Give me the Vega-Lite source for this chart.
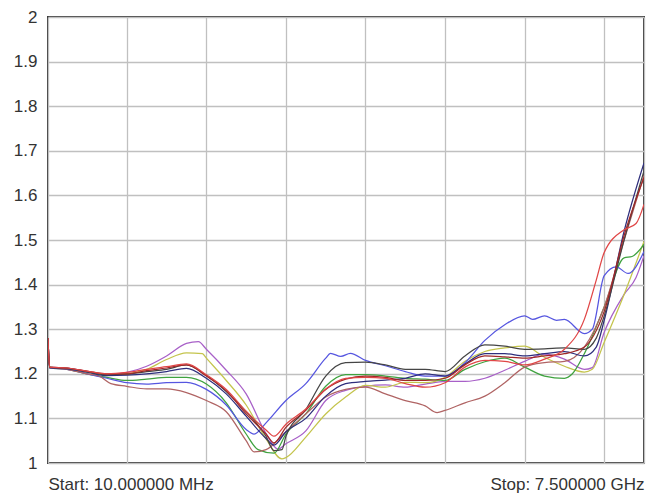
{
  "$schema": "https://vega.github.io/schema/vega-lite/v6.json",
  "width": 596,
  "height": 446,
  "autosize": {"type": "none"},
  "padding": {"left": 48, "top": 17, "right": 14, "bottom": 39},
  "background": "white",
  "config": {
    "view": {"stroke": "#3a3a3a", "strokeWidth": 2},
    "axis": {"domain": false, "ticks": false, "grid": true, "gridColor": "#c0c0c0", "gridWidth": 1.3, "labelFont": "Liberation Sans", "labelFontSize": 17, "labelColor": "#333333"}
  },
  "data": {"values": [
    {"s":"purple","f":0.01,"v":1.28},{"s":"purple","f":0.03,"v":1.215},{"s":"purple","f":0.25,"v":1.213},{"s":"purple","f":0.5,"v":1.205},{"s":"purple","f":0.75,"v":1.198},{"s":"purple","f":1.0,"v":1.203},{"s":"purple","f":1.25,"v":1.217},{"s":"purple","f":1.5,"v":1.24},{"s":"purple","f":1.75,"v":1.268},{"s":"purple","f":1.9,"v":1.272},{"s":"purple","f":2.0,"v":1.255},{"s":"purple","f":2.25,"v":1.208},{"s":"purple","f":2.5,"v":1.155},{"s":"purple","f":2.75,"v":1.066},{"s":"purple","f":2.9,"v":1.031},{"s":"purple","f":3.0,"v":1.043},{"s":"purple","f":3.25,"v":1.072},{"s":"purple","f":3.5,"v":1.14},{"s":"purple","f":3.75,"v":1.163},{"s":"purple","f":4.0,"v":1.172},{"s":"purple","f":4.25,"v":1.175},{"s":"purple","f":4.5,"v":1.17},{"s":"purple","f":4.75,"v":1.177},{"s":"purple","f":5.0,"v":1.183},{"s":"purple","f":5.25,"v":1.183},{"s":"purple","f":5.5,"v":1.19},{"s":"purple","f":5.75,"v":1.208},{"s":"purple","f":6.0,"v":1.228},{"s":"purple","f":6.25,"v":1.244},{"s":"purple","f":6.5,"v":1.233},{"s":"purple","f":6.75,"v":1.21},{"s":"purple","f":6.85,"v":1.214},{"s":"purple","f":7.0,"v":1.293},{"s":"purple","f":7.25,"v":1.378},{"s":"purple","f":7.4,"v":1.416},{"s":"purple","f":7.5,"v":1.465},

    {"s":"olive","f":0.01,"v":1.28},{"s":"olive","f":0.03,"v":1.215},{"s":"olive","f":0.25,"v":1.212},{"s":"olive","f":0.5,"v":1.204},{"s":"olive","f":0.75,"v":1.197},{"s":"olive","f":1.0,"v":1.2},{"s":"olive","f":1.25,"v":1.21},{"s":"olive","f":1.5,"v":1.232},{"s":"olive","f":1.75,"v":1.247},{"s":"olive","f":1.95,"v":1.245},{"s":"olive","f":2.0,"v":1.235},{"s":"olive","f":2.25,"v":1.185},{"s":"olive","f":2.5,"v":1.13},{"s":"olive","f":2.75,"v":1.054},{"s":"olive","f":2.95,"v":1.009},{"s":"olive","f":3.0,"v":1.012},{"s":"olive","f":3.25,"v":1.058},{"s":"olive","f":3.5,"v":1.11},{"s":"olive","f":3.75,"v":1.148},{"s":"olive","f":4.0,"v":1.174},{"s":"olive","f":4.25,"v":1.17},{"s":"olive","f":4.5,"v":1.181},{"s":"olive","f":4.75,"v":1.18},{"s":"olive","f":5.0,"v":1.192},{"s":"olive","f":5.25,"v":1.228},{"s":"olive","f":5.5,"v":1.25},{"s":"olive","f":5.75,"v":1.258},{"s":"olive","f":6.0,"v":1.262},{"s":"olive","f":6.25,"v":1.237},{"s":"olive","f":6.5,"v":1.217},{"s":"olive","f":6.75,"v":1.204},{"s":"olive","f":6.85,"v":1.21},{"s":"olive","f":7.0,"v":1.271},{"s":"olive","f":7.25,"v":1.378},{"s":"olive","f":7.5,"v":1.497},

    {"s":"green","f":0.01,"v":1.28},{"s":"green","f":0.03,"v":1.213},{"s":"green","f":0.25,"v":1.21},{"s":"green","f":0.5,"v":1.2},{"s":"green","f":0.75,"v":1.192},{"s":"green","f":1.0,"v":1.185},{"s":"green","f":1.25,"v":1.188},{"s":"green","f":1.5,"v":1.192},{"s":"green","f":1.75,"v":1.192},{"s":"green","f":2.0,"v":1.177},{"s":"green","f":2.25,"v":1.135},{"s":"green","f":2.5,"v":1.065},{"s":"green","f":2.65,"v":1.03},{"s":"green","f":2.85,"v":1.022},{"s":"green","f":3.0,"v":1.065},{"s":"green","f":3.25,"v":1.11},{"s":"green","f":3.5,"v":1.172},{"s":"green","f":3.75,"v":1.198},{"s":"green","f":4.0,"v":1.198},{"s":"green","f":4.25,"v":1.195},{"s":"green","f":4.5,"v":1.19},{"s":"green","f":4.75,"v":1.188},{"s":"green","f":5.0,"v":1.185},{"s":"green","f":5.25,"v":1.21},{"s":"green","f":5.5,"v":1.227},{"s":"green","f":5.75,"v":1.235},{"s":"green","f":6.0,"v":1.215},{"s":"green","f":6.25,"v":1.195},{"s":"green","f":6.5,"v":1.19},{"s":"green","f":6.6,"v":1.2},{"s":"green","f":6.75,"v":1.245},{"s":"green","f":7.0,"v":1.35},{"s":"green","f":7.25,"v":1.46},{"s":"green","f":7.35,"v":1.463},{"s":"green","f":7.5,"v":1.49},

    {"s":"blue","f":0.01,"v":1.28},{"s":"blue","f":0.03,"v":1.213},{"s":"blue","f":0.25,"v":1.21},{"s":"blue","f":0.5,"v":1.2},{"s":"blue","f":0.75,"v":1.19},{"s":"blue","f":1.0,"v":1.18},{"s":"blue","f":1.25,"v":1.177},{"s":"blue","f":1.5,"v":1.18},{"s":"blue","f":1.75,"v":1.181},{"s":"blue","f":2.0,"v":1.165},{"s":"blue","f":2.25,"v":1.13},{"s":"blue","f":2.5,"v":1.075},{"s":"blue","f":2.6,"v":1.065},{"s":"blue","f":2.75,"v":1.09},{"s":"blue","f":3.0,"v":1.14},{"s":"blue","f":3.25,"v":1.178},{"s":"blue","f":3.5,"v":1.235},{"s":"blue","f":3.56,"v":1.246},{"s":"blue","f":3.69,"v":1.239},{"s":"blue","f":3.81,"v":1.246},{"s":"blue","f":4.0,"v":1.23},{"s":"blue","f":4.25,"v":1.218},{"s":"blue","f":4.5,"v":1.205},{"s":"blue","f":4.75,"v":1.195},{"s":"blue","f":5.0,"v":1.195},{"s":"blue","f":5.25,"v":1.225},{"s":"blue","f":5.5,"v":1.275},{"s":"blue","f":5.75,"v":1.31},{"s":"blue","f":6.0,"v":1.33},{"s":"blue","f":6.1,"v":1.322},{"s":"blue","f":6.25,"v":1.33},{"s":"blue","f":6.4,"v":1.32},{"s":"blue","f":6.5,"v":1.322},{"s":"blue","f":6.75,"v":1.29},{"s":"blue","f":6.85,"v":1.3},{"s":"blue","f":7.0,"v":1.42},{"s":"blue","f":7.15,"v":1.44},{"s":"blue","f":7.3,"v":1.425},{"s":"blue","f":7.5,"v":1.474},

    {"s":"brown","f":0.01,"v":1.28},{"s":"brown","f":0.03,"v":1.214},{"s":"brown","f":0.25,"v":1.21},{"s":"brown","f":0.5,"v":1.2},{"s":"brown","f":0.65,"v":1.195},{"s":"brown","f":0.8,"v":1.178},{"s":"brown","f":1.0,"v":1.172},{"s":"brown","f":1.25,"v":1.166},{"s":"brown","f":1.5,"v":1.166},{"s":"brown","f":1.75,"v":1.158},{"s":"brown","f":2.0,"v":1.14},{"s":"brown","f":2.25,"v":1.115},{"s":"brown","f":2.5,"v":1.05},{"s":"brown","f":2.6,"v":1.025},{"s":"brown","f":2.75,"v":1.03},{"s":"brown","f":3.0,"v":1.07},{"s":"brown","f":3.25,"v":1.11},{"s":"brown","f":3.5,"v":1.148},{"s":"brown","f":3.75,"v":1.165},{"s":"brown","f":4.0,"v":1.17},{"s":"brown","f":4.25,"v":1.155},{"s":"brown","f":4.5,"v":1.14},{"s":"brown","f":4.75,"v":1.128},{"s":"brown","f":4.9,"v":1.113},{"s":"brown","f":5.0,"v":1.118},{"s":"brown","f":5.25,"v":1.135},{"s":"brown","f":5.5,"v":1.15},{"s":"brown","f":5.75,"v":1.18},{"s":"brown","f":6.0,"v":1.215},{"s":"brown","f":6.25,"v":1.225},{"s":"brown","f":6.5,"v":1.228},{"s":"brown","f":6.75,"v":1.26},{"s":"brown","f":7.0,"v":1.35},{"s":"brown","f":7.25,"v":1.5},{"s":"brown","f":7.5,"v":1.645},

    {"s":"navy","f":0.01,"v":1.28},{"s":"navy","f":0.03,"v":1.214},{"s":"navy","f":0.25,"v":1.211},{"s":"navy","f":0.5,"v":1.204},{"s":"navy","f":0.75,"v":1.196},{"s":"navy","f":1.0,"v":1.197},{"s":"navy","f":1.25,"v":1.2},{"s":"navy","f":1.5,"v":1.205},{"s":"navy","f":1.75,"v":1.212},{"s":"navy","f":2.0,"v":1.19},{"s":"navy","f":2.25,"v":1.155},{"s":"navy","f":2.5,"v":1.105},{"s":"navy","f":2.75,"v":1.055},{"s":"navy","f":2.85,"v":1.04},{"s":"navy","f":3.0,"v":1.07},{"s":"navy","f":3.25,"v":1.1},{"s":"navy","f":3.5,"v":1.15},{"s":"navy","f":3.75,"v":1.178},{"s":"navy","f":4.0,"v":1.183},{"s":"navy","f":4.25,"v":1.186},{"s":"navy","f":4.5,"v":1.19},{"s":"navy","f":4.75,"v":1.2},{"s":"navy","f":5.0,"v":1.195},{"s":"navy","f":5.25,"v":1.222},{"s":"navy","f":5.5,"v":1.245},{"s":"navy","f":5.75,"v":1.245},{"s":"navy","f":6.0,"v":1.24},{"s":"navy","f":6.25,"v":1.245},{"s":"navy","f":6.5,"v":1.25},{"s":"navy","f":6.75,"v":1.24},{"s":"navy","f":6.9,"v":1.26},{"s":"navy","f":7.0,"v":1.32},{"s":"navy","f":7.25,"v":1.52},{"s":"navy","f":7.5,"v":1.673},

    {"s":"black","f":0.01,"v":1.28},{"s":"black","f":0.03,"v":1.215},{"s":"black","f":0.25,"v":1.212},{"s":"black","f":0.5,"v":1.205},{"s":"black","f":0.75,"v":1.198},{"s":"black","f":1.0,"v":1.199},{"s":"black","f":1.25,"v":1.205},{"s":"black","f":1.5,"v":1.21},{"s":"black","f":1.75,"v":1.22},{"s":"black","f":2.0,"v":1.196},{"s":"black","f":2.25,"v":1.16},{"s":"black","f":2.5,"v":1.115},{"s":"black","f":2.75,"v":1.06},{"s":"black","f":2.85,"v":1.028},{"s":"black","f":2.95,"v":1.03},{"s":"black","f":3.0,"v":1.06},{"s":"black","f":3.25,"v":1.12},{"s":"black","f":3.5,"v":1.195},{"s":"black","f":3.75,"v":1.225},{"s":"black","f":4.0,"v":1.226},{"s":"black","f":4.25,"v":1.22},{"s":"black","f":4.5,"v":1.21},{"s":"black","f":4.75,"v":1.21},{"s":"black","f":5.0,"v":1.205},{"s":"black","f":5.25,"v":1.24},{"s":"black","f":5.5,"v":1.265},{"s":"black","f":5.75,"v":1.262},{"s":"black","f":6.0,"v":1.255},{"s":"black","f":6.25,"v":1.256},{"s":"black","f":6.5,"v":1.258},{"s":"black","f":6.75,"v":1.255},{"s":"black","f":6.9,"v":1.28},{"s":"black","f":7.0,"v":1.33},{"s":"black","f":7.25,"v":1.5},{"s":"black","f":7.5,"v":1.655},

    {"s":"darkred","f":0.01,"v":1.28},{"s":"darkred","f":0.03,"v":1.215},{"s":"darkred","f":0.25,"v":1.213},{"s":"darkred","f":0.5,"v":1.206},{"s":"darkred","f":0.75,"v":1.2},{"s":"darkred","f":1.0,"v":1.2},{"s":"darkred","f":1.25,"v":1.207},{"s":"darkred","f":1.5,"v":1.213},{"s":"darkred","f":1.75,"v":1.22},{"s":"darkred","f":2.0,"v":1.195},{"s":"darkred","f":2.25,"v":1.162},{"s":"darkred","f":2.5,"v":1.11},{"s":"darkred","f":2.75,"v":1.065},{"s":"darkred","f":2.85,"v":1.045},{"s":"darkred","f":3.0,"v":1.08},{"s":"darkred","f":3.25,"v":1.118},{"s":"darkred","f":3.5,"v":1.165},{"s":"darkred","f":3.75,"v":1.188},{"s":"darkred","f":4.0,"v":1.195},{"s":"darkred","f":4.25,"v":1.192},{"s":"darkred","f":4.5,"v":1.185},{"s":"darkred","f":4.75,"v":1.185},{"s":"darkred","f":5.0,"v":1.19},{"s":"darkred","f":5.25,"v":1.22},{"s":"darkred","f":5.5,"v":1.24},{"s":"darkred","f":5.75,"v":1.238},{"s":"darkred","f":6.0,"v":1.235},{"s":"darkred","f":6.25,"v":1.24},{"s":"darkred","f":6.5,"v":1.245},{"s":"darkred","f":6.75,"v":1.26},{"s":"darkred","f":7.0,"v":1.34},{"s":"darkred","f":7.25,"v":1.51},{"s":"darkred","f":7.5,"v":1.64},

    {"s":"red","f":0.01,"v":1.28},{"s":"red","f":0.03,"v":1.215},{"s":"red","f":0.25,"v":1.213},{"s":"red","f":0.5,"v":1.206},{"s":"red","f":0.75,"v":1.2},{"s":"red","f":1.0,"v":1.203},{"s":"red","f":1.25,"v":1.21},{"s":"red","f":1.5,"v":1.216},{"s":"red","f":1.75,"v":1.222},{"s":"red","f":2.0,"v":1.198},{"s":"red","f":2.25,"v":1.165},{"s":"red","f":2.5,"v":1.116},{"s":"red","f":2.75,"v":1.074},{"s":"red","f":2.85,"v":1.06},{"s":"red","f":3.0,"v":1.087},{"s":"red","f":3.25,"v":1.121},{"s":"red","f":3.5,"v":1.166},{"s":"red","f":3.75,"v":1.19},{"s":"red","f":4.0,"v":1.192},{"s":"red","f":4.25,"v":1.19},{"s":"red","f":4.5,"v":1.178},{"s":"red","f":4.75,"v":1.17},{"s":"red","f":5.0,"v":1.18},{"s":"red","f":5.25,"v":1.215},{"s":"red","f":5.5,"v":1.23},{"s":"red","f":5.75,"v":1.228},{"s":"red","f":6.0,"v":1.22},{"s":"red","f":6.25,"v":1.233},{"s":"red","f":6.5,"v":1.255},{"s":"red","f":6.75,"v":1.322},{"s":"red","f":6.9,"v":1.41},{"s":"red","f":7.0,"v":1.472},{"s":"red","f":7.25,"v":1.523},{"s":"red","f":7.4,"v":1.537},{"s":"red","f":7.5,"v":1.58}
  ]},
  "mark": {"type": "line", "strokeWidth": 1.25, "interpolate": "monotone", "clip": true},
  "encoding": {
    "x": {
      "field": "f", "type": "quantitative",
      "scale": {"domain": [0.01, 7.5], "nice": false, "zero": false},
      "axis": {
        "title": null,
        "values": [0.01, 1, 2, 3, 4, 5, 6, 7, 7.5],
        "labelExpr": "datum.value < 0.5 ? 'Start: 10.000000 MHz' : (datum.value > 7.4 ? 'Stop: 7.500000 GHz' : '')",
        "labelFlush": true,
        "labelOverlap": false,
        "labelPadding": 13
      }
    },
    "y": {
      "field": "v", "type": "quantitative",
      "scale": {"domain": [1, 2], "nice": false, "zero": false},
      "axis": {
        "title": null,
        "values": [1, 1.1, 1.2, 1.3, 1.4, 1.5, 1.6, 1.7, 1.8, 1.9, 2],
        "format": ".1~f",
        "labelPadding": 11
      }
    },
    "color": {
      "field": "s", "type": "nominal", "legend": null,
      "scale": {
        "domain": ["purple", "olive", "green", "blue", "brown", "navy", "black", "darkred", "red"],
        "range": ["#a860c8", "#c4c44c", "#3fa23f", "#5656e0", "#b06464", "#2e2e7c", "#454545", "#a02828", "#e04646"]
      }
    }
  }
}
